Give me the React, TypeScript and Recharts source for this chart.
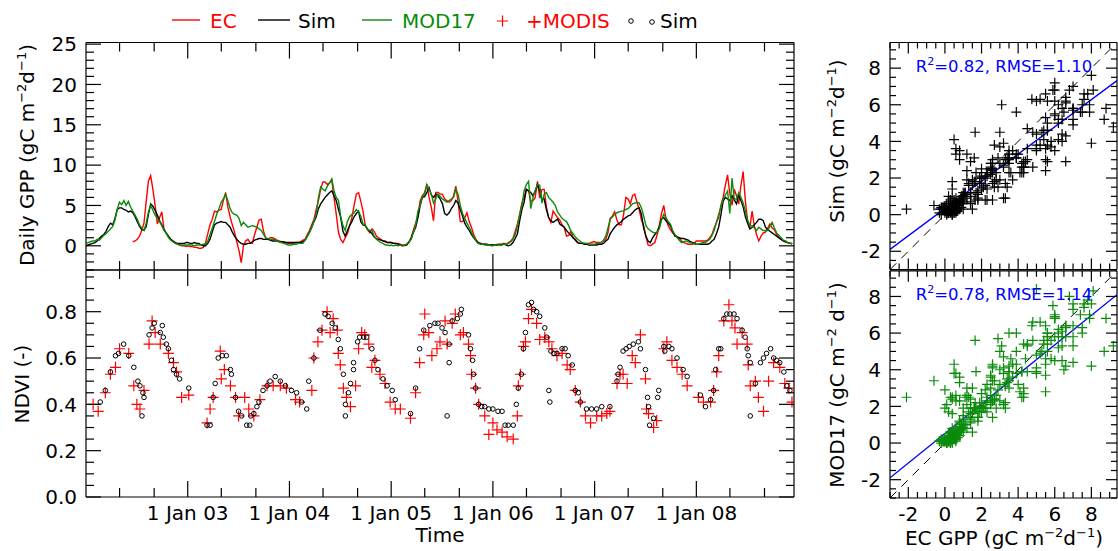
import React from 'react';
import { ComposedChart, ScatterChart, Line, Scatter, XAxis, YAxis, ReferenceLine } from 'recharts';

const FONT = 'DejaVu Sans';
const RED = '#ff0000';
const GREEN = '#0a8c0a';
const BLUE = '#0000ff';

// 8-day GPP (gC m-2 d-1), 46 composites per year starting 1 Jan 2002
const ecGpp: (number | null)[] = [
  // 2002
  null, null, null, null, null, null, null, null, null, null, null, null, null, null, null, null, null, null, null, null, null,
  0.5, 0.6, 0.8, 1.2, 1.9, 2.8, 5.5, 8.0, 8.7, 7.0, 5.0, 2.7, 3.5, 4.2, 2.0, 1.5, 1.1, 0.8, 0.6, 0.4, 0.2, 0.1, 0.0, 0.0, -0.1,
  // 2003
  0.0, -0.1, -0.1, -0.2, -0.2, -0.3, -0.3, -0.2, 0.4, 1.5, 2.6, 3.3, 4.3, 4.2, 4.4, 4.5, 5.6, 6.6, 4.8, 3.6,
  2.6, 1.7, 0.5, -0.6, -2.1, 0.0, 0.6, 0.8, 0.4, 0.3, 1.4, 2.3, 3.2, 3.3, 1.8, 0.9, 0.8, 1.0, 1.0, 0.9, 0.7, 0.6, 0.5, 0.4, 0.4, 0.3,
  // 2004
  0.3, 0.3, 0.3, 0.4, 0.4, 0.5, 0.7, 0.8, 1.4, 1.9, 2.6, 3.3, 4.5, 5.6, 7.0, 7.9, 7.9, 7.6, 7.8, 8.1,
  6.0, 3.9, 1.65, 0.8, 0.4, 1.0, 1.5, 2.5, 3.5, 5.0, 6.4, 6.6, 5.5, 4.3, 2.5, 2.0, 1.65, 2.1, 1.8, 1.2, 1.0, 0.8, 0.6, 0.6, 0.4, 0.4,
  // 2005
  0.4, 0.3, 0.3, 0.3, 0.2, 0.1, 0.0, 0.2, 0.4, 1.0, 2.0, 2.8, 3.7, 5.6, 6.2, 6.6, 7.6, 6.0, 4.75, 3.1,
  6.6, 6.6, 6.4, 6.4, 5.8, 5.6, 5.4, 5.6, 6.2, 7.4, 5.5, 3.0, 3.0, 3.5, 4.1, 3.0, 2.3, 1.4, 0.8, 0.4, 0.3, 0.2, 0.2, 0.1, 0.1, 0.1,
  // 2006
  0.1, 0.1, 0.2, 0.1, 0.1, 0.3, 0.2, 0.4, 0.6, 0.9, 1.8, 2.7, 3.9, 5.3, 6.0, 7.0, 6.8, 5.5, 5.6, 6.0,
  8.0, 5.9, 7.0, 7.0, 4.8, 3.5, 2.9, 4.3, 3.9, 3.5, 3.2, 2.6, 2.3, 1.2, 1.3, 1.8, 1.0, 0.8, 0.4, 0.3, 0.3, 0.3, 0.3, 0.3, 0.4, 0.5,
  // 2007
  0.5, 0.4, 0.4, 0.4, 0.6, 0.8, 1.65, 3.4, 3.7, 4.2, 3.2, 2.6, 2.6, 3.9, 6.0, 5.8, 5.2, 6.2, 6.4, 5.4,
  4.5, 3.2, 2.5, 1.1, 0.1, 0.0, 0.2, 0.4, 1.3, 2.5, 4.0, 5.0, 3.4, 2.5, 2.0, 1.6, 1.4, 1.1, 0.9, 0.6, 0.4, 0.3, 0.2, 0.2, 0.2, 0.4,
  // 2008
  0.6, 0.6, 0.6, 0.6, 0.6, 0.7, 1.0, 1.4, 2.2, 2.9, 3.5, 5.0, 6.0, 7.5, 8.8, 6.5, 5.0, 7.0, 6.2, 5.2,
  7.5, 9.2, 5.5, 3.0, 2.3, 4.3, 2.5, 1.4, 0.6, 1.2, 1.6, 1.7, 2.2, 2.7, 2.2, 2.0, 1.4, 1.0, 0.8, 0.6, 0.5, 0.4, 0.3, 0.2,
];

const simGpp = [
  // 2002
  0.0, 0.1, 0.2, 0.3, 0.4, 0.6, 0.9, 1.2, 1.4, 1.8, 2.4, 2.8, 2.6, 3.4, 4.5, 4.7, 4.7, 4.5, 4.4, 4.2,
  4.3, 4.1, 3.6, 3.0, 2.4, 2.0, 1.9, 2.4, 3.9, 5.2, 4.9, 4.4, 3.8, 3.1, 2.6, 2.0, 1.6, 1.2, 0.8, 0.6, 0.4, 0.3, 0.3, 0.3, 0.3, 0.4,
  // 2003
  0.4, 0.3, 0.3, 0.4, 0.3, 0.3, 0.1, 0.0, 0.0, 0.3, 0.8, 1.7, 2.6, 2.8, 2.9, 3.0, 2.9, 2.9, 2.6, 2.3,
  1.7, 1.2, 0.8, 0.5, 0.3, 0.2, 0.2, 0.3, 0.3, 0.5, 0.7, 0.8, 0.9, 0.9, 0.8, 0.8, 0.8, 0.7, 0.6, 0.6, 0.6, 0.5, 0.5, 0.5, 0.4, 0.4,
  // 2004
  0.4, 0.4, 0.4, 0.4, 0.4, 0.4, 0.5, 0.7, 1.2, 1.7, 2.3, 3.0, 3.6, 4.6, 5.2, 5.6, 6.0, 6.3, 6.6, 6.8,
  6.2, 5.6, 4.5, 3.5, 1.8, 1.2, 1.9, 2.5, 3.0, 3.6, 4.0, 4.3, 3.0, 2.6, 2.5, 2.1, 1.8, 1.5, 1.1, 0.9, 0.8, 0.7, 0.6, 0.5, 0.4, 0.4,
  // 2005
  0.4, 0.3, 0.3, 0.2, 0.1, 0.0, 0.1, 0.1, 0.5, 1.0, 1.7, 2.3, 3.5, 5.0, 6.0, 6.1, 6.6, 7.2, 6.3, 6.0,
  6.4, 6.2, 5.8, 5.2, 4.0, 3.8, 4.1, 4.6, 5.0, 5.6, 5.3, 4.5, 3.7, 2.8, 2.3, 1.9, 1.4, 1.0, 0.7, 0.4, 0.3, 0.2, 0.2, 0.2, 0.1, 0.1,
  // 2006
  0.1, 0.1, 0.1, 0.2, 0.2, 0.2, 0.1, 0.0, 0.1, 0.4, 0.9, 1.5, 3.1, 4.5, 5.4, 7.0, 6.8, 6.6, 6.2, 6.8,
  7.6, 6.8, 5.8, 5.8, 4.5, 3.5, 3.1, 2.9, 3.1, 3.3, 2.7, 2.5, 2.3, 1.9, 1.6, 1.3, 1.0, 0.7, 0.4, 0.3, 0.3, 0.2, 0.2, 0.1, 0.1, 0.1,
  // 2007
  0.1, 0.1, 0.2, 0.2, 0.3, 0.6, 0.8, 1.5, 1.9, 2.3, 2.6, 2.8, 3.0, 3.3, 3.5, 3.7, 3.8, 4.1, 4.4, 4.6,
  4.7, 3.9, 2.2, 1.2, 0.6, 0.4, 1.0, 1.4, 1.7, 2.4, 3.3, 3.5, 3.1, 2.8, 2.5, 1.8, 1.2, 1.1, 1.0, 0.9, 0.9, 0.8, 0.7, 0.5, 0.4, 0.3,
  // 2008
  0.2, 0.2, 0.2, 0.2, 0.2, 0.2, 0.3, 0.6, 0.8, 1.5, 2.3, 3.8, 5.5, 6.0, 5.8, 5.6, 6.2, 5.7, 5.2, 6.3,
  5.6, 4.8, 3.6, 2.8, 2.1, 2.3, 2.6, 2.9, 3.3, 3.3, 3.1, 2.3, 2.0, 1.8, 1.6, 1.4, 1.2, 1.0, 0.8, 0.6, 0.5, 0.4, 0.3, 0.3,
];

const mod17Gpp = [
  // 2002
  0.3, 0.4, 0.5, 0.6, 0.6, 0.8, 0.7, 1.0, 1.3, 1.5, 1.8, 2.1, 2.4, 3.2, 4.5, 5.4, 5.1, 5.6, 5.0, 5.5,
  4.8, 4.3, 3.8, 3.3, 2.6, 2.2, 1.9, 2.8, 4.2, 5.0, 4.4, 3.8, 3.4, 3.0, 2.5, 1.9, 1.6, 1.0, 0.7, 0.5, 0.3, 0.2, 0.1, 0.1, 0.1, 0.1,
  // 2003
  0.1, 0.1, 0.1, 0.0, 0.1, 0.1, 0.1, 0.2, 0.2, 0.6, 1.4, 2.2, 3.0, 3.9, 4.6, 5.4, 5.8, 6.4, 5.6, 4.6,
  4.1, 3.9, 3.8, 3.4, 2.5, 2.9, 2.6, 2.3, 2.4, 2.5, 2.4, 2.3, 2.1, 1.9, 1.4, 1.0, 0.9, 0.8, 0.8, 0.8, 0.6, 0.5, 0.4, 0.3, 0.2, 0.1,
  // 2004
  0.1, 0.1, 0.2, 0.2, 0.3, 0.3, 0.3, 0.7, 1.2, 1.7, 2.3, 3.1, 3.9, 6.0, 7.3, 7.0, 6.8, 7.4, 7.8, 8.3,
  6.8, 6.0, 5.6, 3.6, 2.5, 1.9, 3.0, 3.6, 3.9, 4.1, 4.5, 4.2, 3.7, 2.7, 2.6, 2.0, 1.9, 1.9, 1.2, 0.8, 0.6, 0.4, 0.3, 0.1, 0.1, 0.0,
  // 2005
  0.1, 0.0, 0.1, 0.0, 0.1, 0.0, 0.1, 0.2, 0.5, 0.8, 1.7, 2.6, 4.3, 5.0, 6.2, 6.3, 7.6, 7.0, 6.4, 5.3,
  5.8, 6.4, 6.1, 5.8, 5.6, 5.4, 5.6, 5.8, 6.0, 7.0, 6.4, 5.0, 4.0, 3.4, 2.8, 2.3, 1.7, 1.1, 0.6, 0.3, 0.2, 0.2, 0.1, 0.1, 0.1, 0.0,
  // 2006
  0.0, 0.1, 0.1, 0.1, 0.1, 0.2, 0.2, 0.3, 0.5, 0.8, 1.4, 2.4, 3.8, 5.0, 6.8, 7.6, 8.0, 4.6, 6.0, 6.9,
  7.6, 7.5, 5.3, 6.4, 6.6, 6.0, 5.7, 5.4, 5.0, 4.2, 3.8, 3.4, 3.2, 3.0, 2.5, 1.8, 1.5, 1.1, 0.8, 0.6, 0.4, 0.3, 0.3, 0.2, 0.2, 0.2,
  // 2007
  0.2, 0.3, 0.3, 0.4, 0.7, 1.2, 2.2, 3.3, 3.6, 3.9, 4.1, 4.2, 4.3, 4.3, 4.5, 4.6, 4.9, 5.2, 5.3, 5.4,
  5.3, 4.7, 3.7, 2.5, 2.1, 1.9, 1.7, 1.6, 1.7, 2.1, 3.2, 3.9, 3.5, 3.0, 2.7, 1.9, 1.4, 1.0, 0.7, 0.4, 0.5, 0.6, 0.5, 0.4, 0.3, 0.2,
  // 2008
  0.2, 0.2, 0.3, 0.4, 0.4, 0.6, 0.8, 1.3, 1.9, 2.9, 3.9, 4.8, 5.8, 6.3, 6.8, 4.0, 8.4, 5.8, 5.8, 6.6,
  6.0, 5.3, 4.3, 3.2, 2.5, 2.5, 2.2, 1.9, 2.3, 2.1, 1.9, 1.9, 1.9, 2.4, 2.9, 2.2, 1.6, 1.3, 1.0, 0.7, 0.6, 0.4, 0.3, 0.3,
];

// NDVI samples: [decimal year, NDVI]
const modisNdvi: [number, number][] = [
  [2002.07, 0.40], [2002.12, 0.37], [2002.19, 0.45], [2002.24, 0.53], [2002.29, 0.56], [2002.33, 0.64], [2002.42, 0.62], [2002.47, 0.48],
  [2002.50, 0.40], [2002.53, 0.38], [2002.57, 0.46], [2002.62, 0.66], [2002.65, 0.76], [2002.68, 0.71], [2002.73, 0.66], [2002.81, 0.62],
  [2002.86, 0.58], [2002.89, 0.54], [2002.94, 0.43], [2003.01, 0.44],
  [2003.19, 0.32], [2003.22, 0.38], [2003.25, 0.43], [2003.32, 0.63], [2003.33, 0.51], [2003.36, 0.55], [2003.42, 0.48], [2003.47, 0.43],
  [2003.50, 0.35], [2003.56, 0.43], [2003.60, 0.38], [2003.65, 0.35], [2003.71, 0.42], [2003.78, 0.48], [2003.84, 0.48], [2003.91, 0.48],
  [2003.97, 0.47],
  [2004.06, 0.42], [2004.10, 0.41], [2004.22, 0.46], [2004.24, 0.60], [2004.28, 0.67], [2004.32, 0.72], [2004.37, 0.80], [2004.40, 0.71],
  [2004.43, 0.77], [2004.47, 0.72], [2004.48, 0.62], [2004.50, 0.57], [2004.53, 0.47], [2004.56, 0.43], [2004.60, 0.39], [2004.65, 0.48],
  [2004.68, 0.64], [2004.71, 0.71], [2004.74, 0.70], [2004.78, 0.66], [2004.81, 0.56], [2004.84, 0.59], [2004.89, 0.53], [2004.94, 0.49],
  [2004.99, 0.41],
  [2005.04, 0.38], [2005.09, 0.38], [2005.19, 0.34], [2005.24, 0.45], [2005.28, 0.58], [2005.32, 0.70], [2005.33, 0.79], [2005.37, 0.71],
  [2005.40, 0.61], [2005.45, 0.64], [2005.48, 0.67], [2005.53, 0.76], [2005.55, 0.66], [2005.60, 0.75], [2005.63, 0.79], [2005.68, 0.70],
  [2005.71, 0.71], [2005.76, 0.66], [2005.78, 0.61], [2005.79, 0.53], [2005.83, 0.47], [2005.86, 0.40], [2005.92, 0.35], [2005.96, 0.27],
  [2006.00, 0.32], [2006.04, 0.29], [2006.09, 0.28], [2006.14, 0.26], [2006.20, 0.25], [2006.24, 0.35], [2006.25, 0.48], [2006.27, 0.53],
  [2006.30, 0.65], [2006.32, 0.67], [2006.35, 0.77], [2006.38, 0.81], [2006.43, 0.75], [2006.46, 0.68], [2006.51, 0.69], [2006.55, 0.67],
  [2006.58, 0.64], [2006.63, 0.61], [2006.68, 0.62], [2006.73, 0.57], [2006.76, 0.55], [2006.81, 0.46], [2006.86, 0.41], [2006.91, 0.35],
  [2006.96, 0.32],
  [2007.02, 0.35], [2007.07, 0.35], [2007.12, 0.36], [2007.15, 0.37], [2007.22, 0.49], [2007.25, 0.53], [2007.28, 0.53], [2007.32, 0.49],
  [2007.37, 0.61], [2007.40, 0.58], [2007.45, 0.70], [2007.50, 0.51], [2007.51, 0.38], [2007.53, 0.36], [2007.58, 0.30], [2007.61, 0.33],
  [2007.68, 0.64], [2007.71, 0.67], [2007.76, 0.59], [2007.81, 0.56], [2007.86, 0.53], [2007.91, 0.48],
  [2008.02, 0.43], [2008.07, 0.41], [2008.14, 0.41], [2008.17, 0.46], [2008.20, 0.54], [2008.22, 0.61], [2008.27, 0.76], [2008.32, 0.83],
  [2008.35, 0.76], [2008.38, 0.73], [2008.40, 0.66], [2008.45, 0.71], [2008.50, 0.66], [2008.51, 0.57], [2008.53, 0.48], [2008.58, 0.50],
  [2008.61, 0.43], [2008.66, 0.37], [2008.71, 0.50], [2008.76, 0.58], [2008.82, 0.56], [2008.87, 0.49], [2008.91, 0.47], [2008.94, 0.41],
];

const simNdvi: [number, number][] = [
  [2002.14, 0.41], [2002.19, 0.46], [2002.24, 0.54], [2002.29, 0.61], [2002.32, 0.62], [2002.37, 0.66], [2002.42, 0.61], [2002.47, 0.56],
  [2002.51, 0.50], [2002.53, 0.48], [2002.55, 0.35], [2002.56, 0.45], [2002.57, 0.43], [2002.62, 0.70], [2002.65, 0.73], [2002.67, 0.75],
  [2002.73, 0.71], [2002.75, 0.74], [2002.76, 0.69], [2002.79, 0.66], [2002.81, 0.64], [2002.84, 0.59], [2002.86, 0.55], [2002.89, 0.53],
  [2002.92, 0.51], [2003.01, 0.47],
  [2003.19, 0.31], [2003.22, 0.31], [2003.25, 0.43], [2003.27, 0.49], [2003.30, 0.60], [2003.34, 0.61], [2003.38, 0.61], [2003.42, 0.55],
  [2003.43, 0.53], [2003.47, 0.43], [2003.50, 0.37], [2003.53, 0.35], [2003.58, 0.31], [2003.61, 0.31], [2003.62, 0.35], [2003.65, 0.36],
  [2003.68, 0.39], [2003.70, 0.41], [2003.74, 0.46], [2003.78, 0.48], [2003.81, 0.50], [2003.86, 0.52], [2003.91, 0.50], [2003.96, 0.48],
  [2004.02, 0.46], [2004.07, 0.45], [2004.12, 0.41], [2004.17, 0.38], [2004.19, 0.50], [2004.24, 0.60], [2004.30, 0.72], [2004.35, 0.79],
  [2004.38, 0.78], [2004.42, 0.75], [2004.45, 0.73], [2004.48, 0.68], [2004.50, 0.64], [2004.53, 0.53], [2004.55, 0.40], [2004.55, 0.35],
  [2004.58, 0.45], [2004.60, 0.49], [2004.63, 0.55], [2004.63, 0.58], [2004.67, 0.67], [2004.69, 0.69], [2004.73, 0.69], [2004.76, 0.69],
  [2004.81, 0.64], [2004.84, 0.59], [2004.87, 0.55], [2004.92, 0.51], [2004.96, 0.48], [2005.01, 0.46], [2005.04, 0.42],
  [2005.19, 0.36], [2005.24, 0.47], [2005.28, 0.64], [2005.32, 0.72], [2005.38, 0.74], [2005.43, 0.75], [2005.46, 0.75], [2005.50, 0.73],
  [2005.53, 0.71], [2005.55, 0.35], [2005.57, 0.66], [2005.57, 0.58], [2005.60, 0.76], [2005.65, 0.77], [2005.68, 0.79], [2005.69, 0.81],
  [2005.76, 0.70], [2005.78, 0.64], [2005.80, 0.59], [2005.81, 0.53], [2005.83, 0.47], [2005.86, 0.40], [2005.89, 0.39], [2005.92, 0.39],
  [2005.96, 0.38],
  [2006.00, 0.38], [2006.05, 0.37], [2006.09, 0.37], [2006.12, 0.31], [2006.15, 0.31], [2006.20, 0.31], [2006.23, 0.40], [2006.25, 0.47],
  [2006.28, 0.53], [2006.30, 0.64], [2006.32, 0.71], [2006.35, 0.83], [2006.38, 0.84], [2006.40, 0.81], [2006.43, 0.80], [2006.46, 0.78],
  [2006.51, 0.73], [2006.53, 0.69], [2006.55, 0.46], [2006.56, 0.41], [2006.57, 0.63], [2006.60, 0.62], [2006.63, 0.62], [2006.68, 0.64],
  [2006.71, 0.64], [2006.74, 0.61], [2006.78, 0.57], [2006.81, 0.46], [2006.84, 0.45], [2006.86, 0.41], [2006.92, 0.38], [2006.97, 0.38],
  [2007.02, 0.38], [2007.07, 0.39], [2007.15, 0.39], [2007.22, 0.50], [2007.23, 0.53], [2007.25, 0.56], [2007.28, 0.63], [2007.31, 0.64],
  [2007.34, 0.65], [2007.38, 0.66], [2007.43, 0.67], [2007.45, 0.64], [2007.50, 0.55], [2007.52, 0.43], [2007.53, 0.39], [2007.54, 0.31],
  [2007.58, 0.34], [2007.62, 0.43], [2007.63, 0.46], [2007.68, 0.65], [2007.69, 0.63], [2007.73, 0.65], [2007.76, 0.64], [2007.81, 0.60],
  [2007.87, 0.55], [2007.91, 0.52],
  [2008.04, 0.44], [2008.09, 0.39], [2008.14, 0.42], [2008.17, 0.46], [2008.19, 0.55], [2008.22, 0.64], [2008.24, 0.64], [2008.27, 0.77],
  [2008.30, 0.79], [2008.33, 0.79], [2008.37, 0.79], [2008.40, 0.77], [2008.45, 0.72], [2008.48, 0.69], [2008.50, 0.64], [2008.51, 0.61],
  [2008.53, 0.58], [2008.53, 0.35], [2008.58, 0.49], [2008.63, 0.58], [2008.66, 0.60], [2008.69, 0.62], [2008.73, 0.64], [2008.76, 0.60],
  [2008.79, 0.59], [2008.82, 0.58], [2008.86, 0.54], [2008.89, 0.48], [2008.92, 0.46],
];

// linear fits shown in the scatter panels
const fitSim = { slope: 0.744, intercept: 0.33, r2: '0.82', rmse: '1.10' };
const fitMod = { slope: 0.806, intercept: 0.52, r2: '0.78', rmse: '1.14' };

// axis ticks
const timeTicks = [
  2002.33, 2002.67, 2003, 2003.33, 2003.67, 2004, 2004.33, 2004.67, 2005, 2005.33, 2005.67,
  2006, 2006.33, 2006.67, 2007, 2007.33, 2007.67, 2008, 2008.33, 2008.67,
];
const yearTicks = [2003, 2004, 2005, 2006, 2007, 2008];
const yearLabels = ['1 Jan 03', '1 Jan 04', '1 Jan 05', '1 Jan 06', '1 Jan 07', '1 Jan 08'];
const gppTicks = [-3, -2, -1, 0, 1, 2, 3, 4, 5, 6, 7, 8, 9, 10, 11, 12, 13, 14, 15, 16, 17, 18, 19, 20, 21, 22, 23, 24, 25];
const gppMajor = [0, 5, 10, 15, 20, 25];
const ndviTicks = [0, 0.05, 0.1, 0.15, 0.2, 0.25, 0.3, 0.35, 0.4, 0.45, 0.5, 0.55, 0.6, 0.65, 0.7, 0.75, 0.8, 0.85, 0.9, 0.95];
const ndviMajor = [0, 0.2, 0.4, 0.6, 0.8];
const sctTicks = [-3, -2.5, -2, -1.5, -1, -0.5, 0, 0.5, 1, 1.5, 2, 2.5, 3, 3.5, 4, 4.5, 5, 5.5, 6, 6.5, 7, 7.5, 8, 8.5, 9];
const sctMajor = [-2, 0, 2, 4, 6, 8];

const gppRows = simGpp.map((sim, i) => ({
  t: 2002 + Math.floor(i / 46) + ((i % 46) * 8) / 365,
  ec: ecGpp[i],
  sim,
  mod: mod17Gpp[i],
}));
const simPairs = gppRows.filter((r) => r.ec !== null).map((r) => ({ x: r.ec as number, y: r.sim }));
const modPairs = gppRows.filter((r) => r.ec !== null).map((r) => ({ x: r.ec as number, y: r.mod }));
const modisPts = modisNdvi.map(([t, v]) => ({ t, v }));
const simPts = simNdvi.map(([t, v]) => ({ t, v }));

type Side = 'left' | 'right' | 'top' | 'bottom';

// inward pointing ticks, IDL style
function inTick(side: Side, edge: number, majors: number[], majLen: number, minLen: number, fmt?: (v: number) => string) {
  return (p: any) => {
    const v = p.payload.value as number;
    const major = majors.includes(v);
    const len = major ? majLen : minLen;
    const c = side === 'left' || side === 'right' ? p.y : p.x;
    let d = '';
    if (side === 'left') d = `M${edge},${c}h${len}`;
    if (side === 'right') d = `M${edge},${c}h${-len}`;
    if (side === 'top') d = `M${c},${edge}v${len}`;
    if (side === 'bottom') d = `M${c},${edge}v${-len}`;
    let label = null;
    if (major && fmt) {
      label =
        side === 'left' ? (
          <text x={edge - 9} y={c} dy="0.36em" textAnchor="end" fontSize={20} fontFamily={FONT} fill="#000">
            {fmt(v)}
          </text>
        ) : (
          <text x={c} y={edge + 8} dy="0.76em" textAnchor="middle" fontSize={20} fontFamily={FONT} fill="#000">
            {fmt(v)}
          </text>
        );
    }
    return (
      <g>
        <path d={d} stroke="#000" strokeWidth={1.2} />
        {label}
      </g>
    );
  };
}

const axisBase = {
  tickLine: false,
  tickSize: 0,
  interval: 0 as const,
  allowDataOverflow: true,
  axisLine: { stroke: '#000', strokeWidth: 1.2 },
};

const plus = (color: string, r: number) => (p: any) => (
  <path
    d={`M${p.cx - r},${p.cy}H${p.cx + r}M${p.cx},${p.cy - r}V${p.cy + r}`}
    stroke={color}
    strokeWidth={1.2}
    fill="none"
  />
);
const ring = (p: any) => <circle cx={p.cx} cy={p.cy} r={2.3} stroke="#000" strokeWidth={1} fill="none" />;
const nothing = () => <g />;

const W = 1118;
const H = 551;
const L = 86;
const R = 794;
const SL = 890;
const SR = 1117;

const fmtYear = (v: number) => yearLabels[yearTicks.indexOf(v)];

// margins leave 1px boxes for the top and right helper axes
const frameMargin = (top: number, bottom: number, left: number, right: number) => ({
  top: top - 1,
  bottom: H - bottom - 1,
  left: left - 60,
  right: W - right - 1,
});

function GppPanel() {
  const top = 42.5;
  const bottom = 270;
  return (
    <ComposedChart width={W} height={H} data={gppRows} margin={frameMargin(top, bottom, L, R)}>
      <XAxis xAxisId="b" dataKey="t" type="number" domain={[2002, 2008.96]} ticks={timeTicks} height={1} {...axisBase}
        tick={inTick('bottom', bottom, yearTicks, 16, 9)} />
      <XAxis xAxisId="t" orientation="top" dataKey="t" type="number" domain={[2002, 2008.96]} ticks={timeTicks} height={1} {...axisBase}
        tick={inTick('top', top, yearTicks, 16, 9)} />
      <YAxis yAxisId="l" type="number" domain={[-3, 25.2]} ticks={gppTicks} width={60} {...axisBase}
        tick={inTick('left', L, gppMajor, 15, 8, (v) => String(v))} />
      <YAxis yAxisId="r" orientation="right" type="number" domain={[-3, 25.2]} ticks={gppTicks} width={1} {...axisBase}
        tick={inTick('right', R, gppMajor, 15, 8)} />
      <Line xAxisId="b" yAxisId="l" dataKey="ec" stroke={RED} strokeWidth={1.4} dot={false} isAnimationActive={false} />
      <Line xAxisId="b" yAxisId="l" dataKey="sim" stroke="#000" strokeWidth={1.4} dot={false} isAnimationActive={false} />
      <Line xAxisId="b" yAxisId="l" dataKey="mod" stroke={GREEN} strokeWidth={1.4} dot={false} isAnimationActive={false} />
      <Line xAxisId="t" yAxisId="r" dataKey="sim" stroke="none" dot={false} isAnimationActive={false} />
    </ComposedChart>
  );
}

function NdviPanel() {
  const top = 270;
  const bottom = 497;
  return (
    <ScatterChart width={W} height={H} margin={frameMargin(top, bottom, L, R)}>
      <XAxis xAxisId="b" dataKey="t" type="number" domain={[2002, 2008.96]} ticks={timeTicks} height={1} {...axisBase}
        tick={inTick('bottom', bottom, yearTicks, 16, 9, fmtYear)} />
      <XAxis xAxisId="t" orientation="top" dataKey="t" type="number" domain={[2002, 2008.96]} ticks={timeTicks} height={1} {...axisBase}
        tick={inTick('top', top, yearTicks, 16, 9)} />
      <YAxis yAxisId="l" dataKey="v" type="number" domain={[0, 0.98]} ticks={ndviTicks} width={60} {...axisBase}
        tick={inTick('left', L, ndviMajor, 15, 8, (v) => v.toFixed(1))} />
      <YAxis yAxisId="r" orientation="right" dataKey="v" type="number" domain={[0, 0.98]} ticks={ndviTicks} width={1} {...axisBase}
        tick={inTick('right', R, ndviMajor, 15, 8)} />
      <Scatter xAxisId="b" yAxisId="l" data={modisPts} shape={plus(RED, 5.5)} isAnimationActive={false} />
      <Scatter xAxisId="b" yAxisId="l" data={simPts} shape={ring} isAnimationActive={false} />
      <Scatter xAxisId="t" yAxisId="r" data={simPts} shape={nothing} isAnimationActive={false} />
    </ScatterChart>
  );
}

function FitPanel({ pts, color, fit, top, bottom, xLabels }: any) {
  const lo = -3;
  const hi = 9.4;
  return (
    <ScatterChart width={W} height={H} margin={frameMargin(top, bottom, SL, SR)}>
      <XAxis xAxisId="b" dataKey="x" type="number" domain={[lo, hi]} ticks={sctTicks} height={1} {...axisBase}
        tick={inTick('bottom', bottom, sctMajor, 11, 6, xLabels ? (v) => String(v) : undefined)} />
      <XAxis xAxisId="t" orientation="top" dataKey="x" type="number" domain={[lo, hi]} ticks={sctTicks} height={1} {...axisBase}
        tick={inTick('top', top, sctMajor, 11, 6)} />
      <YAxis yAxisId="l" dataKey="y" type="number" domain={[lo, hi]} ticks={sctTicks} width={60} {...axisBase}
        tick={inTick('left', SL, sctMajor, 11, 6, (v) => String(v))} />
      <YAxis yAxisId="r" orientation="right" dataKey="y" type="number" domain={[lo, hi]} ticks={sctTicks} width={1} {...axisBase}
        tick={inTick('right', SR, sctMajor, 11, 6)} />
      <Scatter xAxisId="b" yAxisId="l" data={pts} shape={plus(color, 5)} isAnimationActive={false} />
      <Scatter xAxisId="t" yAxisId="r" data={pts} shape={nothing} isAnimationActive={false} />
      <ReferenceLine xAxisId="b" yAxisId="l" segment={[{ x: lo, y: lo }, { x: hi, y: hi }]}
        stroke="#000" strokeWidth={1} strokeDasharray="9 7" ifOverflow="hidden" />
      <ReferenceLine xAxisId="b" yAxisId="l"
        segment={[{ x: lo, y: fit.intercept + fit.slope * lo }, { x: hi, y: fit.intercept + fit.slope * hi }]}
        stroke={BLUE} strokeWidth={1.4} ifOverflow="hidden" />
    </ScatterChart>
  );
}

// text with superscripts: parts alternate normal / superscript
function Rich({ parts, sup = 13, rise = 8 }: { parts: string[]; sup?: number; rise?: number }) {
  return (
    <>
      {parts.map((s, i) => {
        const isSup = i % 2 === 1;
        const dy = isSup ? -rise : i > 0 ? rise : 0;
        return (
          <tspan key={i} dy={dy} fontSize={isSup ? sup : undefined}>
            {s}
          </tspan>
        );
      })}
    </>
  );
}

function Overlay() {
  return (
    <svg width={W} height={H} style={{ position: 'absolute', left: 0, top: 0 }} fontFamily={FONT}>
      {/* legend */}
      <line x1={172} x2={200} y1={20} y2={20} stroke={RED} strokeWidth={1.4} />
      <text x={210} y={28} fontSize={20} fill={RED}>EC</text>
      <line x1={258} x2={290} y1={20} y2={20} stroke="#000" strokeWidth={1.4} />
      <text x={298} y={28} fontSize={20} fill="#000">Sim</text>
      <line x1={362} x2={392} y1={20} y2={20} stroke={GREEN} strokeWidth={1.4} />
      <text x={402} y={28} fontSize={20} fill={GREEN}>MOD17</text>
      <path d="M497,21H508M502.5,15.5V26.5" stroke={RED} strokeWidth={1.2} />
      <text x={526} y={28} fontSize={20} fill={RED}>+MODIS</text>
      <circle cx={631} cy={21} r={2.3} stroke="#000" fill="none" />
      <circle cx={652} cy={22} r={2.3} stroke="#000" fill="none" />
      <text x={660} y={28} fontSize={20} fill="#000">Sim</text>

      {/* axis titles */}
      <text transform="translate(34,155) rotate(-90)" textAnchor="middle" fontSize={20} fill="#000">
        <Rich parts={['Daily GPP (gC m', '−2', 'd', '−1', ')']} />
      </text>
      <text transform="translate(29,384) rotate(-90)" textAnchor="middle" fontSize={20} fill="#000">
        NDVI (-)
      </text>
      <text x={440} y={542} textAnchor="middle" fontSize={20} fill="#000">Time</text>
      <text transform="translate(844,141) rotate(-90)" textAnchor="middle" fontSize={20} fill="#000">
        <Rich parts={['Sim (gC m', '−2', 'd', '−1', ')']} />
      </text>
      <text transform="translate(844,385) rotate(-90)" textAnchor="middle" fontSize={20} fill="#000">
        <Rich parts={['MOD17 (gC m', '−2', ' d', '−1', ')']} />
      </text>
      <text x={1004} y={545} textAnchor="middle" fontSize={20} fill="#000">
        <Rich parts={['EC GPP (gC m', '−2', 'd', '−1', ')']} />
      </text>

      {/* fit statistics */}
      <text x={1004} y={72} textAnchor="middle" fontSize={16.5} fill={BLUE}>
        <Rich parts={['R', '2', `=${fitSim.r2}, RMSE=${fitSim.rmse}`]} sup={11} rise={7} />
      </text>
      <text x={1004} y={300} textAnchor="middle" fontSize={16.5} fill={BLUE}>
        <Rich parts={['R', '2', `=${fitMod.r2}, RMSE=${fitMod.rmse}`]} sup={11} rise={7} />
      </text>
    </svg>
  );
}

export default function App() {
  const layer: React.CSSProperties = { position: 'absolute', left: 0, top: 0 };
  return (
    <div style={{ position: 'absolute', left: 0, top: 0, width: W, height: H, background: '#fff', overflow: 'hidden', fontFamily: FONT }}>
      <div style={layer}><GppPanel /></div>
      <div style={layer}><NdviPanel /></div>
      <div style={layer}>
        <FitPanel pts={simPairs} color="#000" fit={fitSim} top={42.5} bottom={269.6} xLabels={false} />
      </div>
      <div style={layer}>
        <FitPanel pts={modPairs} color={GREEN} fit={fitMod} top={270.8} bottom={498} xLabels />
      </div>
      <Overlay />
    </div>
  );
}
